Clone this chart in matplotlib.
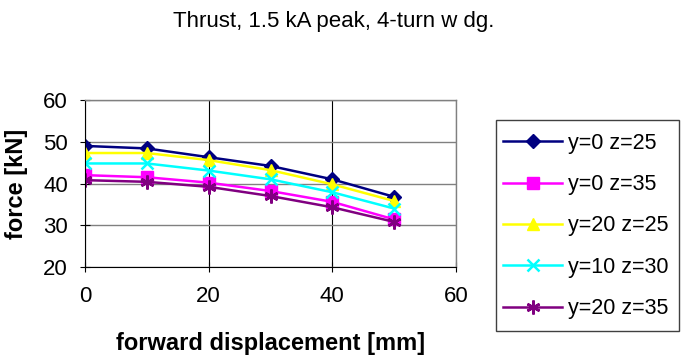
import matplotlib
matplotlib.use("Agg")
import matplotlib.pyplot as plt
from matplotlib.patches import Rectangle

plt.rcParams['font.family'] = ['Liberation Sans', 'DejaVu Sans']

# forward displacement [mm]
disp = [0, 10, 20, 30, 40, 50]

# force [kN] per configuration
y0_z25 = [49.0, 48.4, 46.3, 44.2, 41.0, 36.8]
y0_z35 = [42.0, 41.5, 40.2, 38.2, 35.6, 31.4]
y20_z25 = [47.3, 47.3, 45.6, 43.2, 39.8, 35.8]
y10_z30 = [44.8, 44.8, 43.1, 41.0, 37.9, 34.0]
y20_z35 = [40.8, 40.4, 39.2, 37.0, 34.3, 30.8]

labels = ["y=0 z=25", "y=0 z=35", "y=20 z=25", "y=10 z=30", "y=20 z=35"]

W, H = 681, 360
fig = plt.figure(figsize=(W / 100, H / 100), dpi=100)
# plot area in pixels: x 85..456, y 100..267
ax = fig.add_axes([85 / W, 1 - 267 / H, 371 / W, 167 / H])

ax.plot(disp, y0_z25, color="#000080", marker="D", markersize=7, lw=1.8, label=labels[0])
ax.plot(disp, y0_z35, color="#FF00FF", marker="s", markersize=8, lw=1.8, label=labels[1])
ax.plot(disp, y20_z25, color="#FFFF00", marker="^", markersize=9, lw=1.8, label=labels[2])
ax.plot(disp, y10_z30, color="#00FFFF", marker="x", markersize=9, mew=1.8, lw=1.8, label=labels[3])
ax.plot(disp, y20_z35, color="#800080", marker=(6, 2, 0), markersize=10, mew=1.8, lw=1.8, label=labels[4])

ax.set_xlim(0, 60)
ax.set_ylim(20, 60)
ax.set_xticks([0, 20, 40, 60])
ax.set_yticks([20, 30, 40, 50, 60])
ax.tick_params(axis="both", labelsize=16, length=6.5, width=0.8, direction="inout")
ax.tick_params(axis="x", pad=10.5)
ax.tick_params(axis="y", pad=9)
ax.grid(axis="y", color="#808080", lw=1.0)
ax.grid(axis="x", color="black", lw=0.8)
ax.set_axisbelow(True)
for s in ["top", "right"]:
    ax.spines[s].set_color("#808080")
    ax.spines[s].set_linewidth(1.0)

ax.set_xlabel("forward displacement [mm]", fontsize=17, fontweight="bold")
ax.xaxis.set_label_coords(0.5, (267 - 332) / 167)
ax.set_ylabel("force [kN]", fontsize=17, fontweight="bold")
ax.yaxis.set_label_coords((28 - 85) / 371, 0.5)

fig.text(0.49, 1 - 22 / H, "Thrust, 1.5 kA peak, 4-turn w dg.", ha="center", va="center", fontsize=16)

# legend box drawn separately
fig.patches.append(Rectangle((496 / W, 1 - 331 / H), 183 / W, 211 / H, transform=fig.transFigure,
                             fill=False, edgecolor="#404040", lw=1.0))
leg = fig.legend(loc="center left", bbox_to_anchor=(503 / W, 1 - 226 / H), fontsize=15.5,
                 frameon=False, borderpad=0, borderaxespad=0,
                 handlelength=2.75, labelspacing=0.95, handletextpad=0.25)

fig.savefig("out.png", dpi=100)
